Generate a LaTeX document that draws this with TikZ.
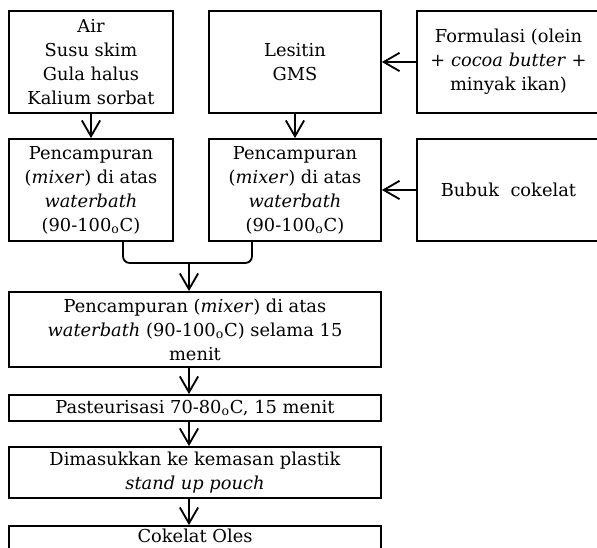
\documentclass[tikz,border=0pt]{standalone}
\usepackage{fontspec}
\setmainfont{DejaVu Serif}
\usetikzlibrary{arrows.meta}
\tikzset{
  box/.style={draw, line width=1.1pt, align=center, inner sep=2pt,
    font=\fontsize{10.7}{14.4}\selectfont},
  arr/.style={-{Straight Barb[length=9.5pt,width=11pt]}, line width=1.1pt}
}
\newcommand{\dC}{\textsubscript{o}C}
\begin{document}
\begin{tikzpicture}[x=0.6pt, y=-0.6pt]
  \useasboundingbox (0,0) rectangle (597,548);
  % baris atas
  \node[box, minimum width=98.4pt, minimum height=61.2pt] (bahan) at (91,62)
    {Air\\Susu skim\\Gula halus\\Kalium sorbat};
  \node[box, minimum width=103.2pt, minimum height=61.2pt] (lesitin) at (295,62)
    {Lesitin\\GMS};
  \node[box, minimum width=109.8pt, minimum height=61.2pt] (formulasi) at (508.5,62)
    {Formulasi (olein\\+ \textit{cocoa butter} +\\minyak ikan)};
  % baris kedua
  \node[box, minimum width=98.4pt, minimum height=61.2pt] (campurA) at (91,190)
    {Pencampuran\\(\textit{mixer}) di atas\\\textit{waterbath}\\(90-100\dC)};
  \node[box, minimum width=103.2pt, minimum height=61.2pt] (campurB) at (295,190)
    {Pencampuran\\(\textit{mixer}) di atas\\\textit{waterbath}\\(90-100\dC)};
  \node[box, minimum width=109.8pt, minimum height=61.2pt] (bubuk) at (508.5,190)
    {Bubuk~~cokelat};
  % alur utama
  \node[box, minimum width=223.2pt, minimum height=45pt] (campur) at (195,329.5)
    {Pencampuran (\textit{mixer}) di atas\\\textit{waterbath} (90-100\dC) selama 15\\menit};
  \node[box, minimum width=223.2pt, minimum height=15.6pt] (pasteur) at (195,408)
    {Pasteurisasi 70-80\dC, 15 menit};
  \node[box, minimum width=223.2pt, minimum height=30.6pt] (kemas) at (195,472.5)
    {Dimasukkan ke kemasan plastik\\\textit{stand up pouch}};
  \node[box, minimum width=223.2pt, minimum height=18pt, text depth=7pt] (oles) at (195,542)
    {Cokelat Oles};
  % panah
  \draw[arr] (bahan) -- (campurA);
  \draw[arr] (lesitin) -- (campurB);
  \draw[arr] (formulasi) -- (lesitin);
  \draw[arr] (bubuk) -- (campurB);
  % gabungan dua pencampuran
  \coordinate (gabung) at (189,263);
  \draw[line width=1.1pt, rounded corners=4pt]
    ([xshift=19.2pt]campurA.south) |- (gabung) -| ([xshift=-25.8pt]campurB.south);
  \draw[arr] (gabung) -- (gabung |- campur.north);
  \draw[arr] (gabung |- campur.south) -- (gabung |- pasteur.north);
  \draw[arr] (gabung |- pasteur.south) -- (gabung |- kemas.north);
  \draw[arr] (gabung |- kemas.south) -- (gabung |- oles.north);
\end{tikzpicture}
\end{document}
